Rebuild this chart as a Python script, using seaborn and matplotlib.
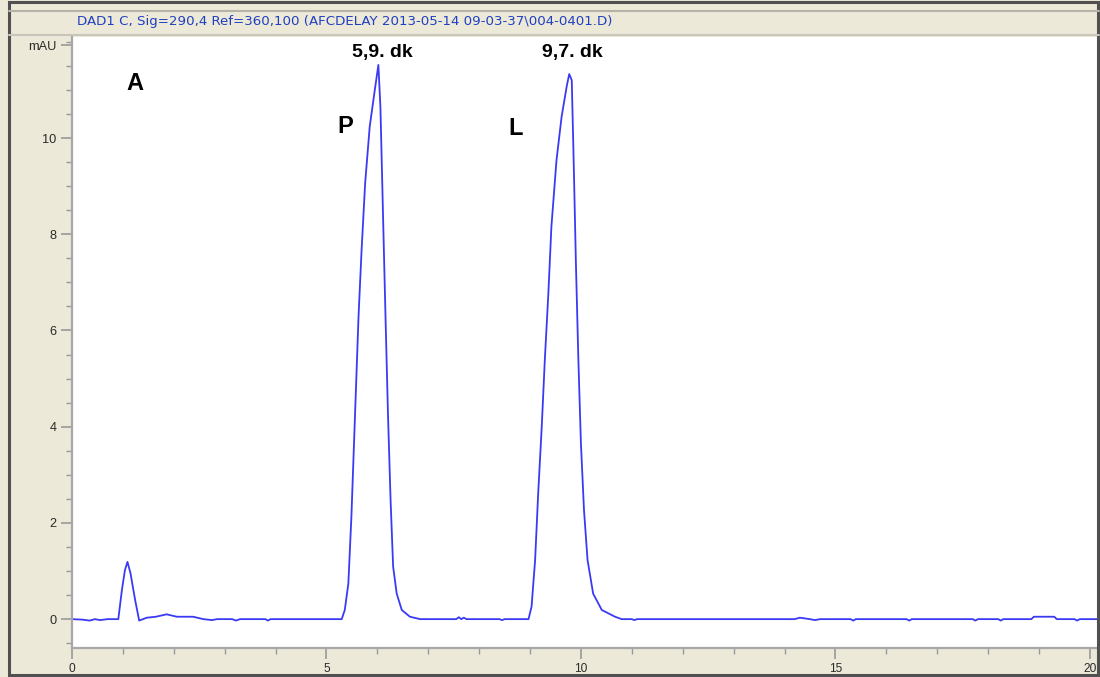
import matplotlib
matplotlib.use("Agg")
import matplotlib.pyplot as plt
import seaborn as sns
import pandas as pd
from matplotlib.patches import Rectangle
from matplotlib.lines import Line2D
from matplotlib.ticker import MultipleLocator, FixedLocator

# ---- data (time in min, signal in mAU) ----
time_min = [0.0, 0.2, 0.35, 0.45, 0.55, 0.7, 0.91,
            0.98, 1.04, 1.09, 1.15, 1.24, 1.32, 1.47, 1.65, 1.86, 2.06, 2.38, 2.58,
            2.75, 2.85, 3.15, 3.22, 3.3, 3.8, 3.85, 3.9, 5.30,
            5.36, 5.43, 5.49, 5.56, 5.63, 5.69, 5.76, 5.85, 5.95, 6.02, 6.06, 6.12,
            6.16, 6.21, 6.26, 6.31, 6.38, 6.48, 6.64, 6.84,
            7.55, 7.6, 7.65, 7.7, 7.75, 8.4, 8.45, 8.5, 8.97,
            9.03, 9.10, 9.16, 9.23, 9.29, 9.36, 9.42, 9.52, 9.62, 9.72, 9.77, 9.82,
            9.86, 9.90, 9.95, 10.0, 10.06, 10.13, 10.24, 10.41, 10.67, 10.80,
            11.0, 11.05, 11.1, 14.2, 14.3, 14.5, 14.6, 14.7, 15.3, 15.35, 15.4,
            16.4, 16.45, 16.5, 17.7, 17.75, 17.8, 18.2, 18.25, 18.3, 18.85, 18.9,
            19.3, 19.35, 19.7, 19.75, 19.8, 20.16]
signal_mau = [0.0, -0.01, -0.03, 0.0, -0.02, 0.0, 0.0,
              0.60, 1.02, 1.19, 0.95, 0.40, -0.03, 0.03, 0.05, 0.10, 0.05, 0.05, 0.0,
              -0.02, 0.0, 0.0, -0.03, 0.0, 0.0, -0.03, 0.0, 0.0,
              0.19, 0.74, 2.13, 4.21, 6.29, 7.67, 9.06, 10.24, 11.0, 11.52, 10.65, 8.02,
              6.29, 4.21, 2.47, 1.09, 0.53, 0.19, 0.05, 0.0,
              0.0, 0.04, 0.0, 0.03, 0.0, 0.0, -0.02, 0.0, 0.0,
              0.26, 1.23, 2.61, 4.0, 5.38, 6.77, 8.16, 9.54, 10.44, 11.07, 11.33, 11.2,
              9.40, 7.46, 5.38, 3.65, 2.27, 1.23, 0.53, 0.19, 0.05, 0.0,
              0.0, -0.02, 0.0, 0.0, 0.03, 0.0, -0.02, 0.0, 0.0, -0.03, 0.0,
              0.0, -0.03, 0.0, 0.0, -0.03, 0.0, 0.0, -0.03, 0.0, 0.0, 0.05,
              0.05, 0.0, 0.0, -0.03, 0.0, 0.0]

x_major_ticks = [0, 5, 10, 15, 20]
x_tick_labels = ["0", "5", "10", "15", "20"]
y_major_ticks = [0, 2, 4, 6, 8, 10]
y_tick_labels = ["0", "2", "4", "6", "8", "10"]

title_text = "DAD1 C, Sig=290,4 Ref=360,100 (AFCDELAY 2013-05-14 09-03-37\\004-0401.D)"
peak_letters = ["A", "P", "L"]
peak_letter_pos = [(1.24, 11.13), (5.36, 10.25), (8.71, 10.2)]
rt_labels = ["5,9. dk", "9,7. dk"]
rt_label_pos = [(6.1, 11.78), (9.84, 11.78)]

# ---- figure ----
sns.set_theme(style="white")
plt.rcParams['font.family'] = ['Liberation Sans', 'DejaVu Sans']

BEIGE = "#ECE9D8"
LINE_BLUE = "#3A3AF5"

fig = plt.figure(figsize=(11, 6.77), dpi=100)
fig.patch.set_facecolor(BEIGE)
W, H = 1100, 677

def fx(px):
    return px / W

def fy(py):
    return 1 - py / H

ax = fig.add_axes([fx(72), fy(648), fx(1098) - fx(72), fy(37) - fy(648)])
ax.set_facecolor("white")

df = pd.DataFrame({"time": time_min, "mAU": signal_mau})
sns.lineplot(data=df, x="time", y="mAU", ax=ax, color=LINE_BLUE, linewidth=1.3,
             sort=False, estimator=None)

ax.set_xlim(0, 20.16)
ax.set_ylim(-0.6, 12.1)
ax.set_xlabel("")
ax.set_ylabel("")

ax.xaxis.set_major_locator(FixedLocator(x_major_ticks))
ax.set_xticklabels(x_tick_labels)
ax.xaxis.set_minor_locator(MultipleLocator(1))
ax.yaxis.set_major_locator(FixedLocator(y_major_ticks + [11.93]))
ax.set_yticklabels(y_tick_labels + ["mAU"])
ax.yaxis.set_minor_locator(MultipleLocator(0.5))

for s in ["top", "right"]:
    ax.spines[s].set_visible(False)
for s in ["left", "bottom"]:
    ax.spines[s].set_color("#A8A8A8")
    ax.spines[s].set_linewidth(1.6)

ax.tick_params(axis="both", which="both", bottom=True, left=True, top=False, right=False)
ax.tick_params(axis="both", which="major", direction="out", length=8, width=1.2,
               color="#999999", labelcolor="#2A2A2A", pad=3)
ax.tick_params(axis="y", which="major", labelsize=9.2)
ax.tick_params(axis="x", which="major", labelsize=8.6)
ax.tick_params(axis="both", which="minor", direction="out", length=4, width=1.0,
               color="#999999")

for lab, (px, py) in zip(peak_letters, peak_letter_pos):
    ax.text(px, py, lab, fontsize=17, fontweight="bold", color="black",
            ha="center", va="center")
for lab, (px, py) in zip(rt_labels, rt_label_pos):
    ax.text(px, py, lab, fontsize=14, fontweight="bold", color="black",
            ha="center", va="center")

# ---- window chrome: title band and frame ----
fig.add_artist(Line2D([fx(9), fx(1099)], [fy(11), fy(11)], color="#B5B3A8", lw=1.5))
fig.add_artist(Line2D([fx(9), fx(1099)], [fy(35), fy(35)], color="#C8C6BA", lw=1.5))
fig.text(fx(345), fy(21), title_text, fontsize=9.6, color="#2040C0",
         ha="center", va="center", family=["DejaVu Sans"])
fig.add_artist(Rectangle((fx(9), fy(675)), fx(1098) - fx(9), fy(2) - fy(675),
                         fill=False, edgecolor="#505050", linewidth=2.2,
                         transform=fig.transFigure))

fig.savefig("out.png", dpi=100, facecolor=fig.get_facecolor())
